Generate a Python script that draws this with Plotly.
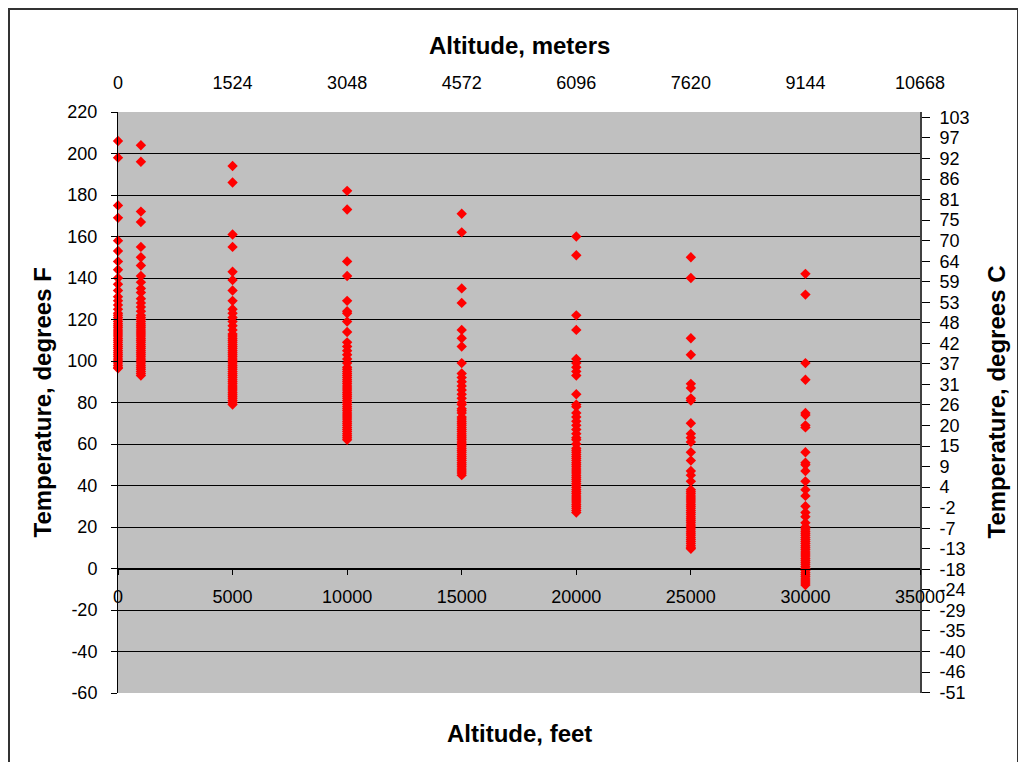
import plotly.graph_objects as go

# altitude groups (feet) and temperatures (deg F)
alt_groups = [0, 1000, 5000, 10000, 15000, 20000, 25000, 30000]

temps_0 = [206, 198, 175, 169, 158, 153, 148, 144, 140, 137, 134, 131, 129, 127, 125, 123,
           122, 121, 120, 119, 118, 117, 116, 115, 114, 113, 112, 111, 110, 109, 108, 107,
           106, 105, 104, 103, 102, 101, 100, 99, 98, 97, 96.5]
temps_1000 = [204, 196, 172, 167, 155, 150, 146, 141, 138, 135, 133, 130, 128, 126, 124, 122,
              121, 120, 119, 118, 117, 116, 115, 114, 113, 112, 111, 110, 109, 108, 107, 106,
              105, 104, 103, 102, 101, 100, 99, 98, 97, 96, 95, 94, 93]
temps_5000 = [194, 186, 161, 155, 143, 139, 134, 129, 125, 123, 121, 119, 117, 115, 113, 112,
              111, 110, 109, 108, 107, 106, 105, 104, 103, 102, 101, 100, 99, 98, 97, 96, 95,
              94, 93, 92, 91, 90, 89, 88, 87, 86, 85, 84, 83, 82, 81, 80, 79]
temps_10000 = [182, 173, 148, 141, 129, 124, 123, 119, 114, 109, 107, 105, 103, 101, 99, 97, 96,
               95, 94, 93, 92, 91, 90, 89, 88, 87, 86, 85, 84, 83, 82, 81, 80, 79, 78, 77, 76,
               75, 74, 73, 72, 71, 70, 69, 68, 67, 66, 65, 64, 63, 62]
temps_15000 = [171, 162, 135, 128, 115, 111, 107, 99, 94, 92, 90, 88, 86, 84, 82, 80, 79, 77, 76,
               75, 73, 72, 71, 70, 69, 68, 67, 66, 65, 64, 63, 62, 61, 60, 59, 58, 57, 56, 55,
               54, 53, 52, 51, 50, 49, 48, 47, 46, 45]
temps_20000 = [160, 151, 122, 115, 101, 99, 97, 95, 93, 84, 79, 78, 75, 73, 71, 69, 67, 65, 63,
               62, 60, 58, 57, 56, 55, 54, 53, 52, 51, 50, 49, 48, 47, 46, 45, 44, 43, 42, 41,
               40, 39, 38, 37, 36, 35, 34, 33, 32, 31, 30, 29, 28, 27]
temps_25000 = [150, 140, 111, 103, 89, 87, 82, 81, 70, 65, 63, 61, 56, 52, 47, 45, 42, 38, 37, 36,
               35, 34, 33, 32, 31, 30, 29, 28, 27, 26, 25, 24, 23, 22, 21, 20, 19, 18, 17, 16,
               15, 14, 13, 12, 11, 10, 9.5]
temps_30000 = [142, 132, 99, 91, 75, 74, 69, 68, 56, 51, 50, 47, 42, 38, 35, 30, 27, 25, 22, 20,
               19, 18, 17, 16, 15, 14, 13, 12, 11, 10, 9, 8, 7, 6, 5, 4, 3, 2, 1, 0, -1, -2, -3,
               -4, -5, -6, -7, -8]

all_temps = [temps_0, temps_1000, temps_5000, temps_10000,
             temps_15000, temps_20000, temps_25000, temps_30000]

# axis labels
feet_ticks = [0, 5000, 10000, 15000, 20000, 25000, 30000, 35000]
meter_labels = ['0', '1524', '3048', '4572', '6096', '7620', '9144', '10668']
fahrenheit_ticks = [-60, -40, -20, 0, 20, 40, 60, 80, 100, 120, 140, 160, 180, 200, 220]
celsius_labels = ['-51', '-46', '-40', '-35', '-29', '-24', '-18', '-13', '-7', '-2', '4', '9',
                  '15', '20', '26', '31', '37', '42', '48', '53', '59', '64', '70', '75', '81',
                  '86', '92', '97', '103']
celsius_vals = [-51 + 5.5 * i for i in range(len(celsius_labels))]

xs, ys = [], []
for alt, temps in zip(alt_groups, all_temps):
    xs += [alt] * len(temps)
    ys += temps

FONT = 'Arial, Liberation Sans, sans-serif'

fig = go.Figure()
fig.add_trace(go.Scatter(
    x=xs, y=ys, mode='markers',
    marker=dict(symbol='diamond', size=8, color='#FF0000', line=dict(width=0)),
    showlegend=False, cliponaxis=False,
))
# invisible trace so the secondary axes get drawn
fig.add_trace(go.Scatter(
    x=[0], y=[0], xaxis='x2', yaxis='y2', mode='markers',
    marker=dict(opacity=0), showlegend=False, hoverinfo='skip',
))

# page body has an 8px margin, so the figure box starts at (8, 8) on screen
fig.update_layout(
    width=1026, height=762,
    margin=dict(l=110, r=114, t=104, b=77),
    paper_bgcolor='white',
    plot_bgcolor='#C0C0C0',
    font=dict(family=FONT, size=18, color='black'),
    xaxis=dict(
        range=[0, 35000], tickvals=feet_ticks, ticktext=[str(v) for v in feet_ticks],
        showgrid=False, zeroline=False,
        anchor='free', position=60 / 280,
        showline=True, linecolor='black', linewidth=1,
        ticks='outside', ticklen=5, tickcolor='black',
        ticklabelstandoff=7,
    ),
    yaxis=dict(
        range=[-60, 220], tickvals=fahrenheit_ticks,
        ticktext=[str(v) for v in fahrenheit_ticks],
        showgrid=True, gridcolor='black', gridwidth=1,
        zeroline=False, showline=True, linecolor='black', linewidth=1,
        ticks='outside', ticklen=6, tickcolor='black', ticklabelstandoff=10,
    ),
    xaxis2=dict(
        overlaying='x', side='top', anchor='y', range=[0, 35000],
        tickvals=feet_ticks, ticktext=meter_labels, showgrid=False, zeroline=False,
        showline=False, ticks='', ticklabelstandoff=18,
    ),
    yaxis2=dict(
        overlaying='y', side='right', anchor='x', range=[(-60 - 32) / 1.8, (220 - 32) / 1.8],
        tickvals=celsius_vals, ticktext=celsius_labels, showgrid=False, zeroline=False,
        showline=True, linecolor='#404040', linewidth=2,
        ticks='outside', ticklen=8, tickcolor='black', ticklabelstandoff=6,
    ),
)

title_font = dict(family=FONT, size=24, color='black')
ann = dict(xref='paper', yref='paper', showarrow=False, font=title_font,
           xanchor='center', yanchor='middle')
fig.add_annotation(text='<b>Altitude, meters</b>', x=0.5, y=1 + 66 / 581, **ann)
fig.add_annotation(text='<b>Altitude, feet</b>', x=0.5, y=-40 / 581, **ann)
fig.add_annotation(text='<b>Temperature, degrees F</b>', x=-76 / 802, y=0.5,
                   textangle=-90, **ann)
fig.add_annotation(text='<b>Temperature, degrees C</b>', x=1 + 76 / 802, y=0.5,
                   textangle=-90, **ann)

# outer chart frame
fig.add_shape(type='rect', xref='paper', yref='paper',
              x0=(9 - 118) / 802, x1=(1018 - 118) / 802,
              y0=(693 - 775) / 581, y1=(693 - 9) / 581,
              line=dict(color='#333333', width=2), fillcolor='rgba(0,0,0,0)', layer='below')

fig.write_html("out.html")
